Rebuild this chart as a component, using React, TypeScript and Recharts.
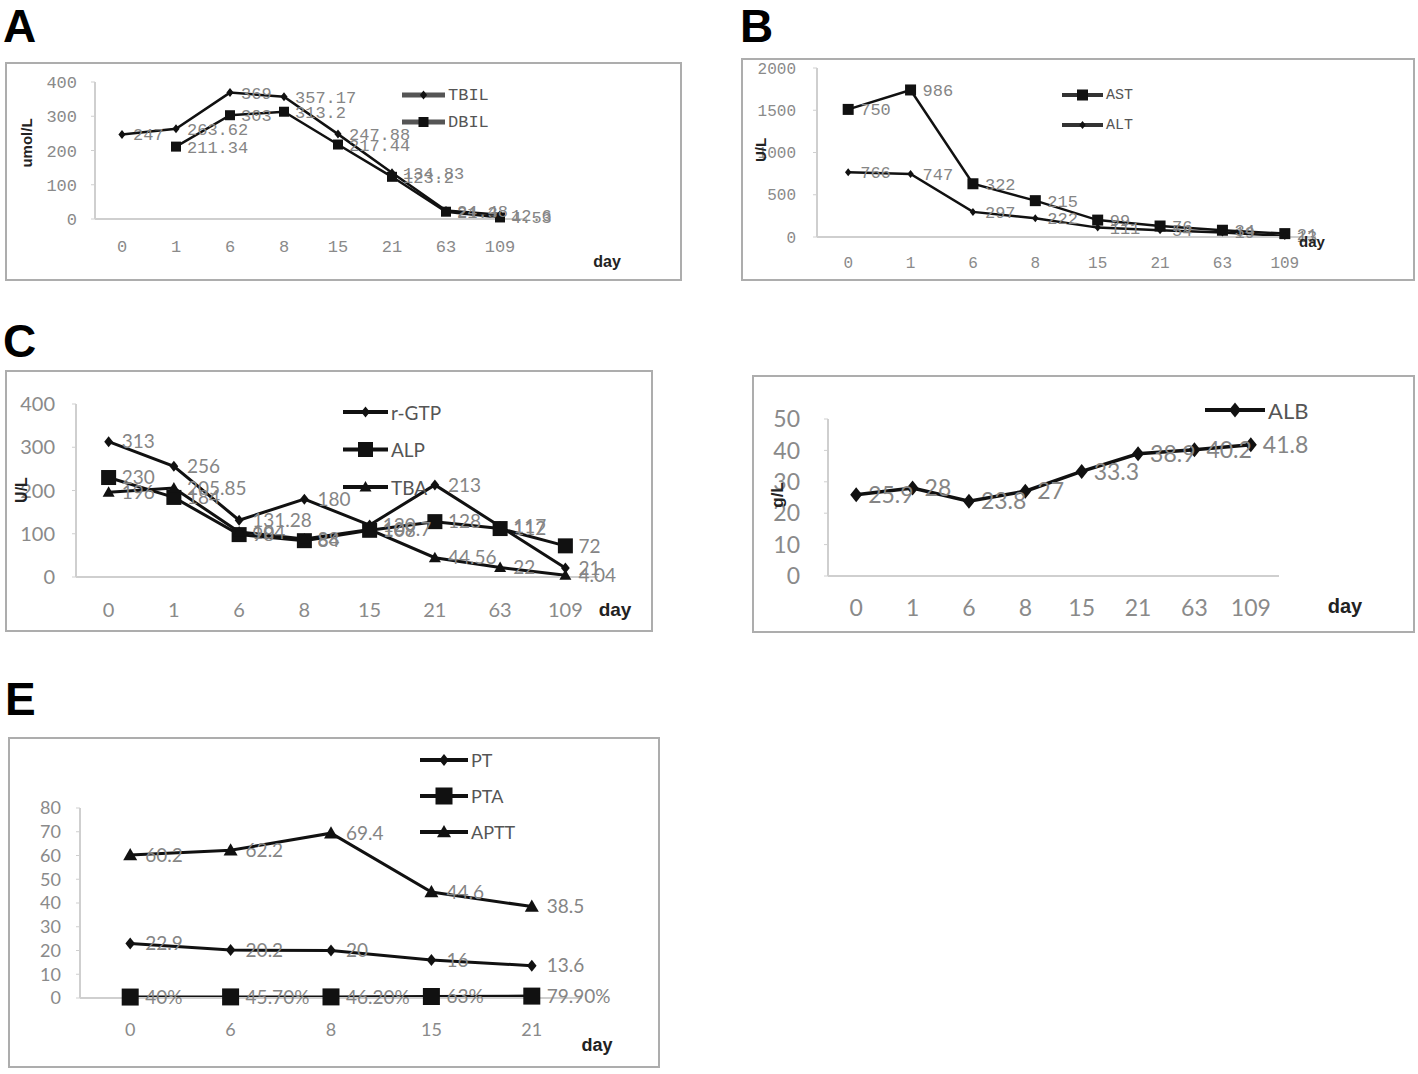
import React from "react";
import { LineChart, Line, XAxis, YAxis, LabelList } from "recharts";

const MONO = '"Liberation Mono", "DejaVu Sans Mono", monospace';
const SANS = 'Lato, "Open Sans", sans-serif';
const HEAD = '"Liberation Sans", Arial, sans-serif';

// categories
const daysLong = ["0", "1", "6", "8", "15", "21", "63", "109"];
const daysShort = ["0", "6", "8", "15", "21"];

// A: bilirubin (umol/L)
const tbil = [247, 263.62, 369, 357.17, 247.88, 134.83, 24.48, 12.6];
const dbil = [null, 211.34, 303, 313.2, 217.44, 123.2, 21.3, 4.53];
const ticksA = [0, 100, 200, 300, 400];

// B: transaminases (U/L)
const ast = [1510, 1740, 630, 430, 200, 130, 80, 40];
const astLabels = ["750", "986", "322", "215", "99", "76", "34", "21"];
const alt = [766, 747, 297, 222, 111, 80, 54, 13];
const altLabels = ["766", "747", "297", "222", "111", "54", "19", "13"];
const ticksB = [0, 500, 1000, 1500, 2000];

// C: r-GTP / ALP / TBA (U/L)
const rgtp = [313, 256, 131.28, 180, 120, 213, 117, 21];
const alp = [230, 184, 98, 84, 108, 128, 112, 72];
const tba = [196, 205.85, 104, 88, 109.7, 44.56, 22, 4.04];
const ticksC = [0, 100, 200, 300, 400];

// D: albumin (g/L)
const alb = [25.9, 28, 23.8, 27, 33.3, 38.9, 40.2, 41.8];
const ticksD = [0, 10, 20, 30, 40, 50];

// E: coagulation
const pt = [22.9, 20.2, 20, 16, 13.6];
const pta = [0.4, 0.457, 0.462, 0.63, 0.799];
const ptaLabels = ["40%", "45.70%", "46.20%", "63%", "79.90%"];
const aptt = [60.2, 62.2, 69.4, 44.6, 38.5];
const ticksE = [0, 10, 20, 30, 40, 50, 60, 70, 80];

const rowsA = daysLong.map((day, i) => ({ day, TBIL: tbil[i], DBIL: dbil[i] }));
const rowsB = daysLong.map((day, i) => ({
	day,
	AST: ast[i],
	ASTl: astLabels[i],
	ALT: alt[i],
	ALTl: altLabels[i],
}));
const rowsC = daysLong.map((day, i) => ({ day, rGTP: rgtp[i], ALP: alp[i], TBA: tba[i] }));
const rowsD = daysLong.map((day, i) => ({ day, ALB: alb[i] }));
const rowsE = daysShort.map((day, i) => ({
	day,
	PT: pt[i],
	PTA: pta[i],
	PTAl: ptaLabels[i],
	APTT: aptt[i],
}));

type Shape = "diamond" | "square" | "triangle";

function Marker({ shape, cx, cy, size }: { shape: Shape; cx?: number; cy?: number; size: number }) {
	if (cx == null || cy == null || Number.isNaN(cy)) return <g />;
	const h = size / 2;
	if (shape === "square")
		return <rect x={cx - h} y={cy - h} width={size} height={size} fill="#111" />;
	if (shape === "triangle")
		return (
			<polygon
				points={`${cx},${cy - h} ${cx + h},${cy + h * 0.75} ${cx - h},${cy + h * 0.75}`}
				fill="#111"
			/>
		);
	return (
		<polygon
			points={`${cx},${cy - h} ${cx + h * 0.8},${cy} ${cx},${cy + h} ${cx - h * 0.8},${cy}`}
			fill="#111"
		/>
	);
}

interface SeriesDef {
	key: string;
	label: string;
	name: string;
	shape: Shape;
	size: number;
	width: number;
}

interface PanelProps {
	box: [number, number, number, number];
	plot: [number, number, number, number]; // left, right, top, baseline (inside box)
	rows: any[];
	series: SeriesDef[];
	yMax: number;
	yTicks: number[];
	font: string;
	tickSize: number;
	labelSize: number;
	labelOffset: number;
	xTickMargin: number;
	yTickMargin: number;
	legend: { x: number; y: number; dy: number; len: number; size: number; stroke: string; lw: number };
	unit?: { text: string; x: number; y: number; size: number };
	day: { x: number; y: number; size: number };
}

function Panel(p: PanelProps) {
	const [left, top, width, height] = p.box;
	const [pl, pr, pt0, base] = p.plot;
	const half = (pr - pl) / p.rows.length / 2;
	const lg = p.legend;
	return (
		<div style={{ position: "absolute", left, top, width, height }}>
			<div
				style={{
					position: "absolute",
					inset: 0,
					border: "2px solid #adadad",
					boxSizing: "border-box",
				}}
			/>
			<div style={{ position: "absolute", left: 0, top: 0 }}>
				<LineChart
					width={width}
					height={height}
					data={p.rows}
					margin={{ top: pt0, right: width - pr, bottom: 0, left: 0 }}
				>
					<XAxis
						dataKey="day"
						type="category"
						interval={0}
						padding={{ left: half, right: half }}
						height={height - base}
						tickLine={false}
						axisLine={{ stroke: "#cfcfcf", strokeWidth: 2 }}
						tick={{ fill: "#8a8a8a", fontSize: p.tickSize, fontFamily: p.font }}
						tickMargin={p.xTickMargin}
					/>
					<YAxis
						type="number"
						domain={[0, p.yMax]}
						ticks={p.yTicks}
						interval={0}
						width={pl}
						tickSize={4}
						tickLine={{ stroke: "#cfcfcf" }}
						axisLine={{ stroke: "#cfcfcf", strokeWidth: 2 }}
						tick={{ fill: "#8a8a8a", fontSize: p.tickSize, fontFamily: p.font }}
						tickMargin={p.yTickMargin}
					/>
					{p.series.map((s) => (
						<Line
							key={s.key}
							dataKey={s.key}
							stroke="#111"
							strokeWidth={s.width}
							dot={(d: any) => (
								<Marker key={`${s.key}-${d.index}`} shape={s.shape} size={s.size} cx={d.cx} cy={d.cy} />
							)}
							activeDot={false}
							isAnimationActive={false}
						>
							<LabelList
								dataKey={s.label}
								position="right"
								offset={p.labelOffset}
								fill="#858585"
								fontSize={p.labelSize}
								fontFamily={p.font}
							/>
						</Line>
					))}
				</LineChart>
			</div>
			<svg
				style={{ position: "absolute", left: 0, top: 0, overflow: "visible" }}
				width={width}
				height={height}
			>
				{p.series.map((s, i) => {
					const y = lg.y + i * lg.dy;
					return (
						<g key={s.key}>
							<line x1={lg.x} x2={lg.x + lg.len} y1={y} y2={y} stroke={lg.stroke} strokeWidth={lg.lw} />
							<Marker shape={s.shape} size={s.size} cx={lg.x + lg.len / 2} cy={y} />
							<text
								x={lg.x + lg.len + 3}
								y={y}
								dominantBaseline="central"
								fontSize={lg.size}
								fontFamily={p.font}
								fill="#555"
							>
								{s.name}
							</text>
						</g>
					);
				})}
			</svg>
			{p.unit && (
				<div
					style={{
						position: "absolute",
						left: p.unit.x,
						top: p.unit.y,
						transform: "translate(-50%, -50%) rotate(-90deg)",
						fontFamily: HEAD,
						fontWeight: "bold",
						fontSize: p.unit.size,
						whiteSpace: "nowrap",
						color: "#222",
					}}
				>
					{p.unit.text}
				</div>
			)}
			<div
				style={{
					position: "absolute",
					left: p.day.x,
					top: p.day.y,
					transform: "translate(-50%, -50%)",
					fontFamily: HEAD,
					fontWeight: "bold",
					fontSize: p.day.size,
					color: "#222",
				}}
			>
				day
			</div>
		</div>
	);
}

const letter = (text: string, left: number, top: number) => (
	<div
		style={{
			position: "absolute",
			left,
			top,
			fontFamily: HEAD,
			fontWeight: "bold",
			fontSize: 46,
			lineHeight: "46px",
			color: "#000",
		}}
	>
		{text}
	</div>
);

export default function App() {
	return (
		<div
			style={{
				position: "absolute",
				left: 0,
				top: 0,
				width: 1418,
				height: 1074,
				background: "#fff",
				overflow: "hidden",
			}}
		>
			{letter("A", 3, 3)}
			{letter("B", 740, 3)}
			{letter("C", 3, 318)}
			{letter("E", 5, 676)}

			<Panel
				box={[5, 62, 677, 219]}
				plot={[90, 522, 20, 157]}
				rows={rowsA}
				series={[
					{ key: "TBIL", label: "TBIL", name: "TBIL", shape: "diamond", size: 9, width: 2.5 },
					{ key: "DBIL", label: "DBIL", name: "DBIL", shape: "square", size: 10, width: 2.5 },
				]}
				yMax={400}
				yTicks={ticksA}
				font={MONO}
				tickSize={17}
				labelSize={17}
				labelOffset={11}
				xTickMargin={15}
				yTickMargin={14}
				legend={{ x: 397, y: 33, dy: 27, len: 43, size: 17, stroke: "#555", lw: 5 }}
				unit={{ text: "umol/L", x: 21, y: 81, size: 15 }}
				day={{ x: 602, y: 200, size: 16 }}
			/>

			<Panel
				box={[741, 58, 674, 223]}
				plot={[76, 575, 10, 179]}
				rows={rowsB}
				series={[
					{ key: "AST", label: "ASTl", name: "AST", shape: "square", size: 11, width: 2.5 },
					{ key: "ALT", label: "ALTl", name: "ALT", shape: "diamond", size: 8, width: 2.5 },
				]}
				yMax={2000}
				yTicks={ticksB}
				font={MONO}
				tickSize={16}
				labelSize={17}
				labelOffset={12}
				xTickMargin={14}
				yTickMargin={17}
				legend={{ x: 321, y: 37, dy: 30, len: 41, size: 15, stroke: "#333", lw: 4 }}
				unit={{ text: "U/L", x: 19, y: 92, size: 15 }}
				day={{ x: 571, y: 183, size: 15 }}
			/>

			<Panel
				box={[5, 370, 648, 262]}
				plot={[71, 593, 34, 207]}
				rows={rowsC}
				series={[
					{ key: "rGTP", label: "rGTP", name: "r-GTP", shape: "diamond", size: 11, width: 3 },
					{ key: "ALP", label: "ALP", name: "ALP", shape: "square", size: 15, width: 3 },
					{ key: "TBA", label: "TBA", name: "TBA", shape: "triangle", size: 12, width: 3 },
				]}
				yMax={400}
				yTicks={ticksC}
				font={SANS}
				tickSize={20}
				labelSize={19}
				labelOffset={13}
				xTickMargin={20}
				yTickMargin={17}
				legend={{ x: 338, y: 42, dy: 37.5, len: 45, size: 19, stroke: "#111", lw: 4 }}
				unit={{ text: "U/L", x: 17, y: 120, size: 16 }}
				day={{ x: 610, y: 240, size: 19 }}
			/>

			<Panel
				box={[752, 375, 663, 258]}
				plot={[76, 527, 44, 201]}
				rows={rowsD}
				series={[{ key: "ALB", label: "ALB", name: "ALB", shape: "diamond", size: 15, width: 3.5 }]}
				yMax={50}
				yTicks={ticksD}
				font={SANS}
				tickSize={23}
				labelSize={23}
				labelOffset={12}
				xTickMargin={18}
				yTickMargin={24}
				legend={{ x: 453, y: 35, dy: 0, len: 60, size: 22, stroke: "#111", lw: 4 }}
				unit={{ text: "g/L", x: 26, y: 120, size: 17 }}
				day={{ x: 593, y: 231, size: 20 }}
			/>

			<Panel
				box={[8, 737, 652, 331]}
				plot={[72, 574, 71, 261]}
				rows={rowsE}
				series={[
					{ key: "PT", label: "PT", name: "PT", shape: "diamond", size: 12, width: 3 },
					{ key: "PTA", label: "PTAl", name: "PTA", shape: "square", size: 17, width: 3 },
					{ key: "APTT", label: "APTT", name: "APTT", shape: "triangle", size: 14, width: 3 },
				]}
				yMax={80}
				yTicks={ticksE}
				font={SANS}
				tickSize={18}
				labelSize={19}
				labelOffset={15}
				xTickMargin={19}
				yTickMargin={15}
				legend={{ x: 412, y: 23, dy: 36, len: 48, size: 18, stroke: "#111", lw: 4 }}
				day={{ x: 589, y: 308, size: 18 }}
			/>
		</div>
	);
}
